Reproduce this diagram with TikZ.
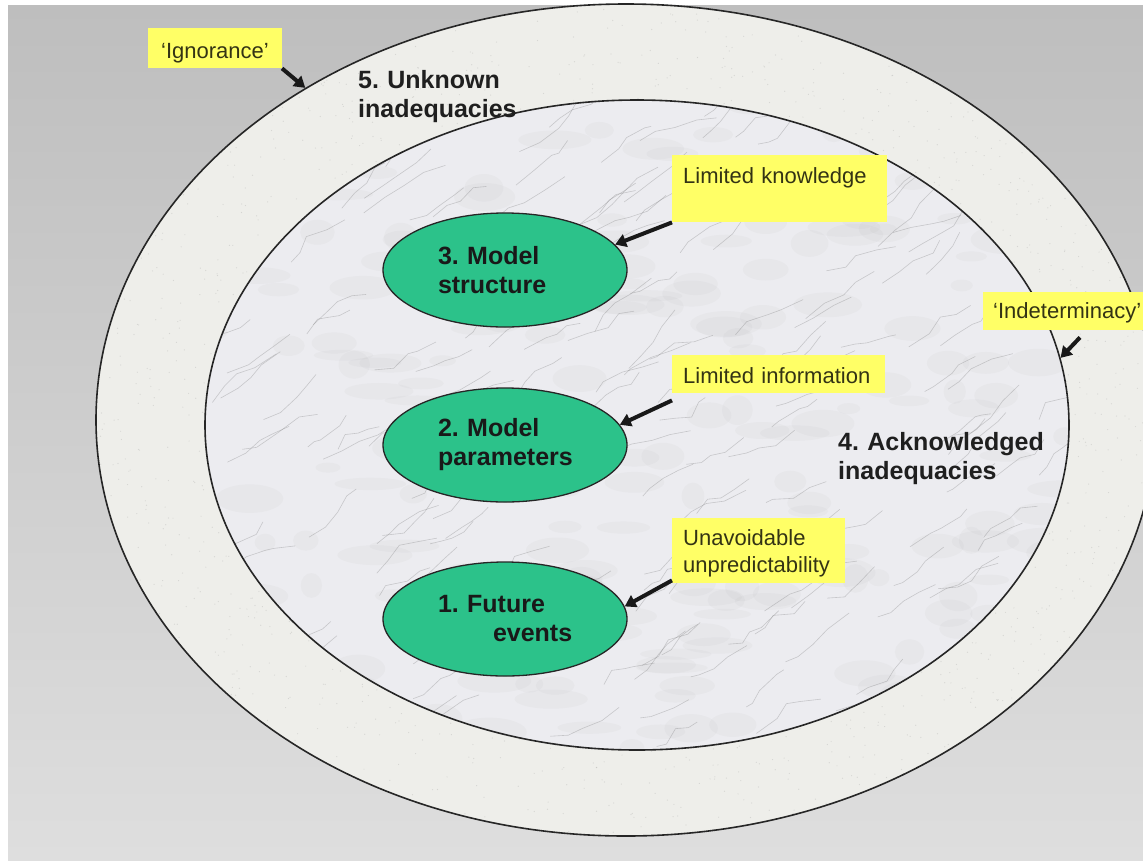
\documentclass[tikz,border=0pt]{standalone}
\usepackage{fontspec}
\setmainfont{Liberation Sans}
\usetikzlibrary{shapes.geometric,arrows.meta}
\definecolor{bgtop}{RGB}{190,190,190}
\definecolor{bgbot}{RGB}{222,222,222}
\definecolor{ringfill}{RGB}{238,238,234}
\definecolor{marblefill}{RGB}{236,236,240}
\definecolor{eggreen}{RGB}{44,194,138}
\definecolor{lblyellow}{RGB}{255,255,102}
\definecolor{lbltext}{RGB}{51,51,20}
\frenchspacing
\begin{document}
\begin{tikzpicture}[x=1pt,y=-1pt,
  ringnode/.style={ellipse, draw=black!85, line width=1.6pt, inner sep=0pt},
  greenell/.style={ellipse, draw=black!85, line width=1.3pt, fill=eggreen,
    minimum width=244pt, minimum height=114pt, inner sep=0pt, align=left,
    text width=134pt, font=\fontsize{25}{29}\selectfont\bfseries, text=black!90},
  bigtxt/.style={anchor=base west, inner sep=0pt, align=left, text width=220pt,
    font=\fontsize{25}{29}\selectfont\bfseries, text=black!88},
  lbl/.style={fill=lblyellow, anchor=north west, inner xsep=11pt, inner ysep=0pt,
    align=left, font=\fontsize{22}{27}\selectfont, text=lbltext},
  arr/.style={line width=4pt, draw=black!90, -{Triangle[length=11pt,width=13pt]}}
]
\useasboundingbox (0,0) rectangle (1143,863);
\fill[white] (0,0) rectangle (1143,863);
\shade[top color=bgtop, bottom color=bgbot] (8,5) rectangle (1143,860);

% granite ring
\begin{scope}
  \clip (626,420) ellipse [x radius=530pt, y radius=416pt];
  \fill[ringfill] (0,0) rectangle (1143,863);
  \pgfmathsetseed{11}
  \foreach \i in {1,...,3000}{
    \fill[black!45, opacity=0.25] (626+530*rand, 420+416*rand) circle[radius=0.6pt];
  }
\end{scope}

% marble interior
\begin{scope}
  \clip (637,425) ellipse [x radius=432pt, y radius=325pt];
  \fill[marblefill] (200,95) rectangle (1075,755);
  \pgfmathsetseed{5}
  \foreach \i in {1,...,220}{
    \pgfmathsetmacro{\sx}{637+440*rand}
    \pgfmathsetmacro{\sy}{425+330*rand}
    \pgfmathsetmacro{\rx}{24+14*rand}
    \pgfmathsetmacro{\ry}{10+5*rand}
    \fill[black!40, opacity=0.06] (\sx,\sy) ellipse [x radius=\rx pt, y radius=\ry pt];
  }
  \foreach \i in {1,...,200}{
    \pgfmathsetmacro{\sx}{637+440*rand}
    \pgfmathsetmacro{\sy}{425+330*rand}
    \draw[black!60, opacity=0.28, line width=0.6pt] (\sx,\sy) -- ++(14+8*rand,-9+8*rand) -- ++(14+8*rand,-9+8*rand) -- ++(14+8*rand,-9+8*rand) -- ++(14+8*rand,-9+8*rand);
  }
\end{scope}

% ring borders
\node[ringnode, minimum width=1060pt, minimum height=832pt] (outer) at (626,420) {};
\node[ringnode, minimum width=864pt, minimum height=650pt] (inner) at (637,425) {};

% green ellipses
\node[greenell] (s3) at (505,270) {3. Model\\structure};
\node[greenell] (s2) at (505,445) {2. Model\\parameters};
\node[greenell] (s1) at (505,619) {1. Future\\\hspace*{55pt}events};

% ring texts
\node[bigtxt] (t5) at (358,88) {5. Unknown\\inadequacies};
\node[bigtxt] (t4) at (838,450) {4. Acknowledged\\inadequacies};

% yellow labels
\node[lbl, inner xsep=13pt, text height=30pt, text depth=10pt] (ign) at (148,28) {‘Ignorance’};
\node[lbl, text width=193pt, text height=28pt, text depth=39pt] (know) at (672,155) {Limited knowledge};
\node[lbl, inner xsep=10pt, text height=26pt, text depth=12pt] (indet) at (983,292) {‘Indeterminacy’};
\node[lbl, text width=191pt, text height=28pt, text depth=10pt] (info) at (672,355) {Limited information};
\node[lbl, text width=151pt, text height=27pt, text depth=38pt] (unav) at (672,518) {Unavoidable\\unpredictability};

% arrows
\draw[arr] (ign.south east) -- (outer.134);
\draw[arr] (know.south west) -- (s3.13);
\draw[arr] ([yshift=-7pt]info.south west) -- (s2.10);
\draw[arr] ([yshift=3pt]unav.south west) -- (s1.6);
\draw[arr] ([xshift=97pt,yshift=-7pt]indet.south west) -- (inner.9);
\end{tikzpicture}
\end{document}
